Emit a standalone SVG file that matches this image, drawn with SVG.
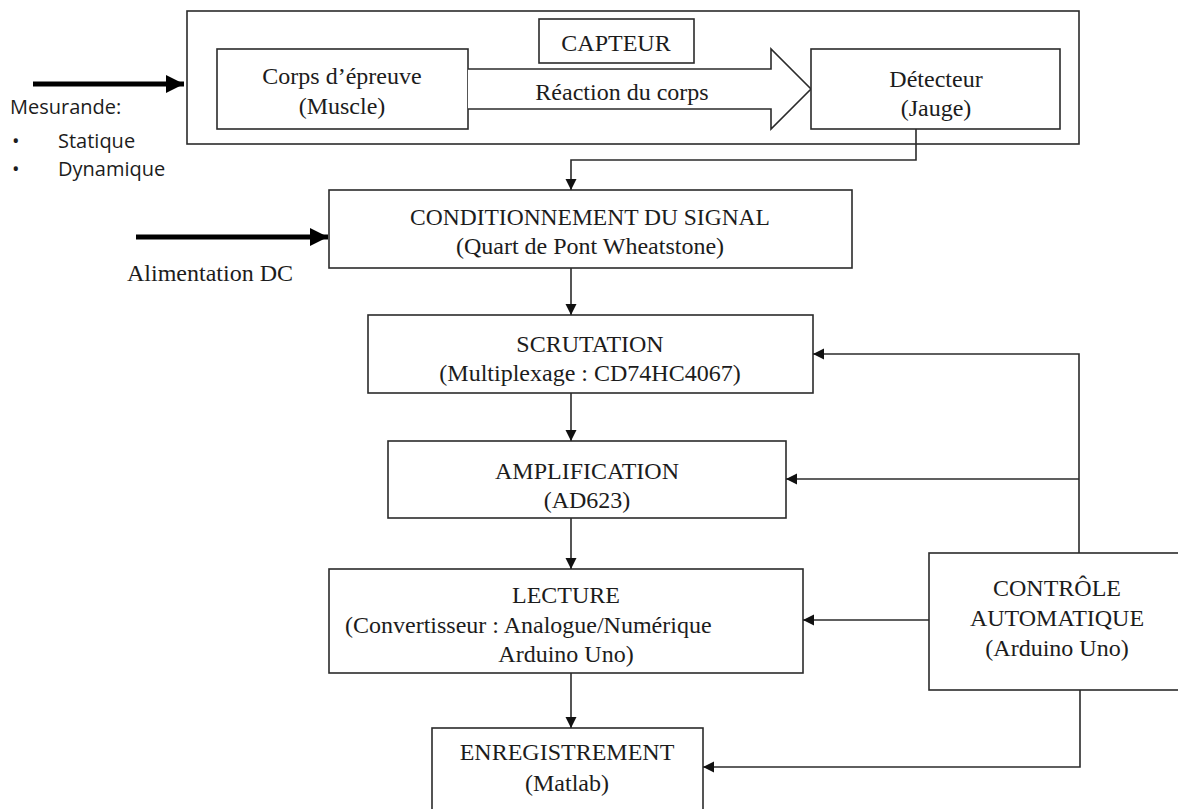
<svg xmlns="http://www.w3.org/2000/svg" width="1178" height="809" viewBox="0 0 1178 809">
<style>
.box{fill:#fff;stroke:#2b2b2b;stroke-width:1.6}
.t{font-family:"Liberation Serif","Times New Roman",serif;font-size:24px;fill:#1c1c1c;text-anchor:middle}
.s{font-family:"Open Sans","Liberation Sans",sans-serif;font-size:20px;fill:#1c1c1c}
.ln{fill:none;stroke:#2b2b2b;stroke-width:1.6}
.thick{fill:none;stroke:#000;stroke-width:5}
</style>
<defs>
<marker id="ah" markerUnits="userSpaceOnUse" markerWidth="12" markerHeight="12" refX="11" refY="5.5" orient="auto">
<path d="M0,0 L11,5.5 L0,11 z" fill="#111"/>
</marker>
<marker id="big" markerUnits="userSpaceOnUse" markerWidth="20" markerHeight="20" refX="18" refY="9" orient="auto">
<path d="M0,0 L18,9 L0,18 z" fill="#000"/>
</marker>
</defs>

<g id="capteur">
<rect class="box" x="187" y="11" width="892" height="133"/>
<rect class="box" x="539" y="19" width="155" height="44"/>
<text class="t" x="616" y="51">CAPTEUR</text>
</g>

<g id="corps">
<rect class="box" x="217" y="49" width="251" height="80"/>
<text class="t" x="342" y="84">Corps d’épreuve</text>
<text class="t" x="342" y="114">(Muscle)</text>
</g>

<g id="reaction">
<path class="box" d="M468,69 L771,69 L771,49 L811,89 L771,129 L771,109 L468,109"/>
<text class="t" x="622" y="100">Réaction du corps</text>
</g>

<g id="detecteur">
<rect class="box" x="811" y="49" width="249" height="80"/>
<text class="t" x="936" y="87">Détecteur</text>
<text class="t" x="936" y="116">(Jauge)</text>
</g>

<g id="mesurande">
<text class="s" x="10" y="114">Mesurande:</text>
<text class="s" x="12" y="148">•</text>
<text class="s" x="58" y="148">Statique</text>
<text class="s" x="12" y="176">•</text>
<text class="s" x="58" y="176">Dynamique</text>
</g>

<g id="conditionnement">
<rect class="box" x="329" y="190" width="523" height="78"/>
<text class="t" x="590" y="225" style="font-size:23.5px">CONDITIONNEMENT DU SIGNAL</text>
<text class="t" x="590" y="254">(Quart de Pont Wheatstone)</text>
</g>

<g id="alimentation">
<text class="t" x="127" y="281" style="text-anchor:start">Alimentation DC</text>
</g>

<g id="scrutation">
<rect class="box" x="368" y="315" width="445" height="78"/>
<text class="t" x="590" y="352">SCRUTATION</text>
<text class="t" x="590" y="381">(Multiplexage : CD74HC4067)</text>
</g>

<g id="amplification">
<rect class="box" x="388" y="441" width="398" height="77"/>
<text class="t" x="587" y="479">AMPLIFICATION</text>
<text class="t" x="587" y="508">(AD623)</text>
</g>

<g id="lecture">
<rect class="box" x="329" y="569" width="474" height="104"/>
<text class="t" x="566" y="603">LECTURE</text>
<text class="t" x="345" y="633" style="text-anchor:start">(Convertisseur : Analogue/Numérique</text>
<text class="t" x="566" y="662">Arduino Uno)</text>
</g>

<g id="enregistrement">
<rect class="box" x="432" y="728" width="271" height="100"/>
<text class="t" x="567" y="760">ENREGISTREMENT</text>
<text class="t" x="567" y="791">(Matlab)</text>
</g>

<g id="controle">
<rect class="box" x="929" y="553" width="270" height="137"/>
<text class="t" x="1057" y="596">CONTRÔLE</text>
<text class="t" x="1057" y="626">AUTOMATIQUE</text>
<text class="t" x="1057" y="656">(Arduino Uno)</text>
</g>

<g id="connectors">
<line class="thick" x1="33" y1="84" x2="184" y2="84" marker-end="url(#big)"/>
<line class="thick" x1="136" y1="237" x2="328" y2="237" marker-end="url(#big)"/>
<path class="ln" d="M916,129 L916,160 L571,160 L571,190" marker-end="url(#ah)"/>
<line class="ln" x1="571" y1="268" x2="571" y2="315" marker-end="url(#ah)"/>
<line class="ln" x1="571" y1="393" x2="571" y2="441" marker-end="url(#ah)"/>
<line class="ln" x1="571" y1="518" x2="571" y2="569" marker-end="url(#ah)"/>
<line class="ln" x1="571" y1="673" x2="571" y2="728" marker-end="url(#ah)"/>
<path class="ln" d="M1079,553 L1079,354 L813,354" marker-end="url(#ah)"/>
<line class="ln" x1="1079" y1="479" x2="786" y2="479" marker-end="url(#ah)"/>
<line class="ln" x1="929" y1="620" x2="803" y2="620" marker-end="url(#ah)"/>
<path class="ln" d="M1080,690 L1080,767 L703,767" marker-end="url(#ah)"/>
</g>
</svg>
